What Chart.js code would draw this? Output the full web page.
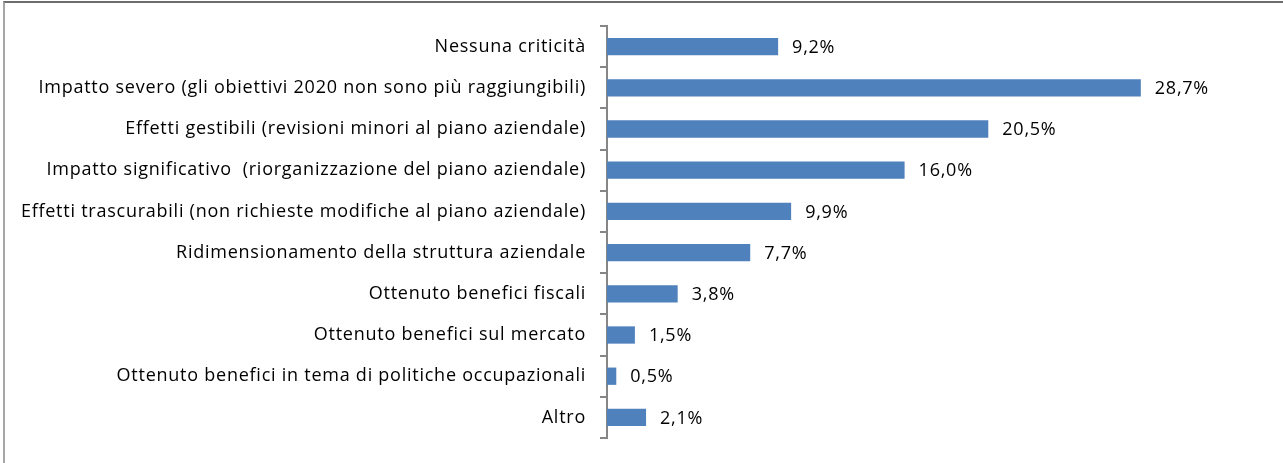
<!DOCTYPE html>
<html>
<head>
<meta charset="utf-8">
<script src="https://cdn.jsdelivr.net/npm/chart.js@4.4.1/dist/chart.umd.min.js"></script>
<style>
    html, body { margin: 0; padding: 0; background: #fff; }
    #wrap { position: relative; width: 1283px; height: 463px; }
    #frame {
        position: absolute; left: 3px; top: 1px; right: 0; bottom: -5px;
        border-top: 2px solid #6d6d6d;
        border-left: 2px solid #a6a6a6;
    }
    canvas { position: absolute; left: 0; top: 0; }
</style>
</head>
<body>
<div id="wrap">
    <div id="frame"></div>
    <canvas id="chart" width="1283" height="463"></canvas>
</div>
<script>
const categories = [
    'Nessuna criticità',
    'Impatto severo (gli obiettivi 2020 non sono più raggiungibili)',
    'Effetti gestibili (revisioni minori al piano aziendale)',
    'Impatto significativo  (riorganizzazione del piano aziendale)',
    'Effetti trascurabili (non richieste modifiche al piano aziendale)',
    'Ridimensionamento della struttura aziendale',
    'Ottenuto benefici fiscali',
    'Ottenuto benefici sul mercato',
    'Ottenuto benefici in tema di politiche occupazionali',
    'Altro'
];
const values = [9.2, 28.7, 20.5, 16.0, 9.9, 7.7, 3.8, 1.5, 0.5, 2.1];

const fontFamily = '"Open Sans", sans-serif';
const fontSize = 18;

// slightly looser text, like the original rendering
const spacing = {
    id: 'spacing',
    beforeDraw(chart) { chart.ctx.letterSpacing = '0.75px'; },
    afterDraw(chart) { chart.ctx.letterSpacing = '0px'; }
};

// value labels to the right of each bar
const valueLabels = {
    id: 'valueLabels',
    afterDatasetsDraw(chart) {
        const ctx = chart.ctx;
        const meta = chart.getDatasetMeta(0);
        ctx.save();
        ctx.font = fontSize + 'px ' + fontFamily;
        ctx.fillStyle = '#000';
        ctx.textAlign = 'left';
        ctx.textBaseline = 'middle';
        meta.data.forEach((bar, i) => {
            const txt = values[i].toFixed(1).replace('.', ',') + '%';
            ctx.fillText(txt, bar.x + 14, bar.y + 1);
        });
        ctx.restore();
    }
};

new Chart(document.getElementById('chart').getContext('2d'), {
    type: 'bar',
    data: {
        labels: categories,
        datasets: [{
            data: values,
            backgroundColor: '#4f81bd',
            barPercentage: 0.42,
            categoryPercentage: 1
        }]
    },
    options: {
        indexAxis: 'y',
        responsive: false,
        animation: false,
        layout: {
            padding: { top: 26, bottom: 25, left: 0, right: 25 }
        },
        plugins: {
            legend: { display: false },
            tooltip: { enabled: false }
        },
        scales: {
            x: {
                display: false,
                min: 0,
                max: 35
            },
            y: {
                afterFit(scale) { scale.width = 607; },
                grid: {
                    drawOnChartArea: false,
                    drawTicks: true,
                    tickLength: 7,
                    color: '#868686',
                    lineWidth: 2,
                    offset: true
                },
                border: {
                    display: true,
                    color: '#868686',
                    width: 2
                },
                ticks: {
                    color: '#000',
                    padding: 14,
                    autoSkip: false,
                    font: { family: fontFamily, size: fontSize }
                }
            }
        }
    },
    plugins: [spacing, valueLabels]
});
</script>
</body>
</html>
